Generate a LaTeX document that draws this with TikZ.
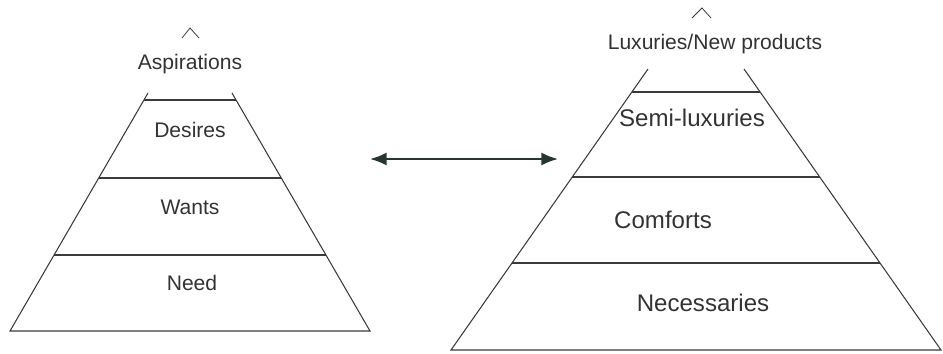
\documentclass[tikz,border=0pt]{standalone}
\usepackage{fontspec}
\setmainfont{Liberation Sans}
\usetikzlibrary{arrows.meta,calc}
\definecolor{inkGray}{HTML}{3A3A3A}
\definecolor{arrowInk}{HTML}{263530}

\begin{document}
\begin{tikzpicture}[
  x=0.02cm, y=-0.02cm,
  edge/.style={draw=inkGray, line width=0.6pt},
  tier/.style={draw=inkGray},
  caretmark/.style={draw=inkGray, line width=0.45pt},
  lefttext/.style={font=\fontsize{12}{14}\selectfont, text=black!80, inner sep=0pt},
  righttext/.style={font=\fontsize{13.7}{16}\selectfont, text=black!80, inner sep=0pt},
  link/.style={{Latex[length=9.5pt,width=7.5pt]}-{Latex[length=9.5pt,width=7.5pt]}, draw=arrowInk, line width=1.2pt}
]
\useasboundingbox (0,0) rectangle (943,353);

% left pyramid
\coordinate (lbl) at (10,331);
\coordinate (ltl) at (148,93);
\coordinate (lbr) at (370,331);
\coordinate (ltr) at (232,93);
\draw[edge] (ltl) -- (lbl) -- (lbr) -- (ltr);
\foreach \t/\w in {0.319/1.0pt, 0.643/1.0pt, 0.971/0.7pt}
  \draw[tier, line width=\w] ($(lbl)!\t!(ltl)$) -- ($(lbr)!\t!(ltr)$);
\draw[caretmark] (182,38) -- (190,28) -- (199,38);

\node[lefttext] (aspir) at (190,64) {Aspirations};
\node[lefttext] (desires) at (190,130) {Desires};
\node[lefttext] (wants) at (190,207) {Wants};
\node[lefttext] (need) at (192,283) {Need};

% right pyramid
\coordinate (rbl) at (451,350);
\coordinate (rtl) at (648,69);
\coordinate (rbr) at (941,350);
\coordinate (rtr) at (744,69);
\draw[edge] (rtl) -- (rbl) -- (rbr) -- (rtr);
\foreach \t in {0.310, 0.616, 0.918}
  \draw[tier, line width=0.7pt] ($(rbl)!\t!(rtl)$) -- ($(rbr)!\t!(rtr)$);
\draw[caretmark] (692,18) -- (702,8) -- (711,18);

\node[lefttext] (luxury) at (715,44) {Luxuries/New products};
\node[righttext] (semilux) at (692,118) {Semi-luxuries};
\node[righttext] (comfort) at (663,220) {Comforts};
\node[righttext] (necess) at (703,303) {Necessaries};

% link between the two
\coordinate (lnkA) at (370,159);
\coordinate (lnkB) at (558,159);
\draw[link] (lnkA) -- (lnkB);
\end{tikzpicture}
\end{document}
